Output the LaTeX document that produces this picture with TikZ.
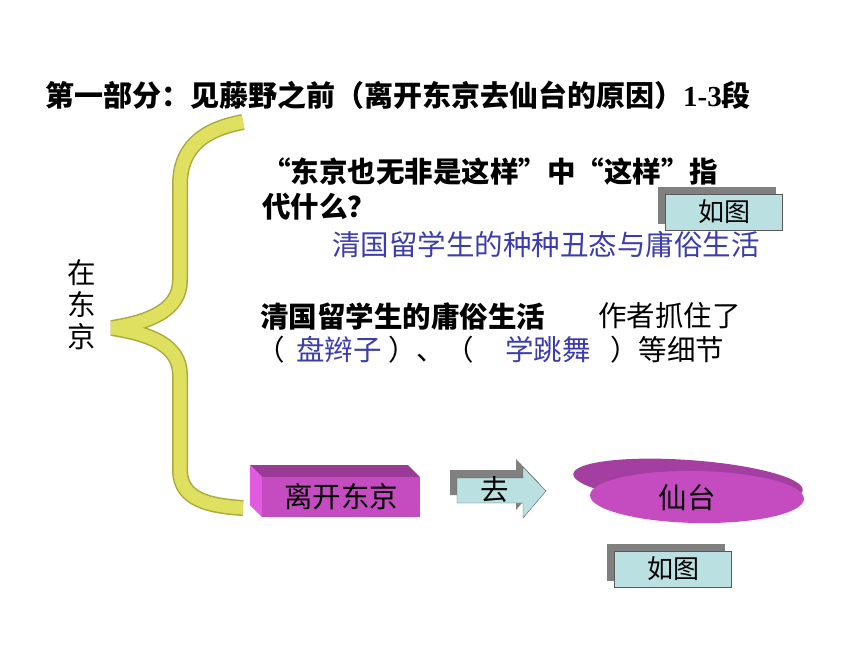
\documentclass[tikz,border=0pt]{standalone}
\usepackage{fontspec}
\setmainfont{Liberation Serif}
\newfontfamily\cjk{Noto Sans CJK SC}
\usetikzlibrary{shadows}
\definecolor{ribbon}{RGB}{224,224,96}
\definecolor{ribbonedge}{RGB}{170,170,60}
\definecolor{ans}{RGB}{60,60,170}
\definecolor{tipbox}{RGB}{186,224,226}
\definecolor{boxfront}{RGB}{196,76,192}
\definecolor{boxtop}{RGB}{154,60,150}
\definecolor{boxside}{RGB}{226,90,224}
\definecolor{discrim}{RGB}{164,62,160}
\def\bigtext{\fontsize{28.5}{32}\selectfont\cjk}
\newcommand\goarrow{(457,478) -- (523,478) -- (523,467) -- (546,491) -- (523,518) -- (523,503) -- (457,503) -- cycle}
\newcommand\bracepath{(243,122) .. controls (200,130) and (180,150) .. (180,185) -- (180,280)
    .. controls (180,310) and (150,322) .. (112,328) .. controls (150,334) and (180,345) .. (180,375)
    -- (180,470) .. controls (180,500) and (210,506) .. (243,508)}
\tikzset{
  txt/.style={anchor=west, inner sep=0pt, font=\bigtext},
  tipnode/.style={draw=gray!70!black, fill=tipbox, minimum width=117pt, minimum height=36pt,
    inner sep=0pt, font=\fontsize{26}{26}\selectfont\cjk,
    copy shadow={shadow xshift=-7pt, shadow yshift=7pt, fill=gray, draw=gray}}
}

\begin{document}
\begin{tikzpicture}[x=1pt,y=-1pt]
  \useasboundingbox (0,0) rectangle (860,645);
  \node[txt, font=\fontsize{29}{29}\selectfont\cjk\bfseries] (title) at (45,95)
    {第一部分：见藤野之前（离开东京去仙台的原因）{\rmfamily 1-3}段};
  % brace
  \draw[ribbonedge, line width=16pt, line join=bevel] \bracepath;
  \draw[ribbon, line width=13pt, line join=bevel] \bracepath;
  \node[font=\bigtext, align=center, inner sep=0pt] (tokyo) at (82,305) {在\\东\\京};
  \node[txt, font=\bigtext\bfseries] (q1) at (262,172) {“东京也无非是这样”中“这样”指};
  \node[txt, font=\bigtext\bfseries] (q2) at (262,207) {代什么？};
  \node[tipnode] (tipA) at (724,212) {如图};
  \node[txt, text=ans] (a1) at (332,245) {清国留学生的种种丑态与庸俗生活};
  \node[txt, font=\bigtext\bfseries] (life) at (260,316) {清国留学生的庸俗生活};
  \node[txt] (caught) at (598,316) {作者抓住了};
  \node[txt] (p1) at (256,350) {（};
  \node[txt, text=ans] (a2) at (296,350) {盘辫子};
  \node[txt] (p2) at (388,350) {）、（};
  \node[txt, text=ans] (a3) at (505,350) {学跳舞};
  \node[txt] (p3) at (610,350) {）等细节};
  % 3d box
  \fill[boxtop] (250,465) -- (408,465) -- (420,477) -- (262,477) -- cycle;
  \fill[boxside] (250,465) -- (262,477) -- (262,517) -- (250,505) -- cycle;
  \fill[boxfront] (262,477) rectangle (420,517);
  \node[font=\bigtext] (leave) at (341,497) {离开东京};
  % arrow
  \fill[gray] [shift={(-7,-8)}] \goarrow;
  \filldraw[fill=tipbox, draw=gray!70!black] \goarrow;
  \node[font=\bigtext] (go) at (495,490) {去};
  % disc
  \fill[discrim, rotate around={-4:(688,482)}] (688,482) ellipse [x radius=115pt, y radius=22pt];
  \fill[boxfront, rotate around={-1:(697,497)}] (697,497) ellipse [x radius=107pt, y radius=26pt];
  \node[font=\bigtext] (xiantai) at (687,498) {仙台};
  \node[tipnode] (tipB) at (673,569) {如图};
\end{tikzpicture}
\end{document}
